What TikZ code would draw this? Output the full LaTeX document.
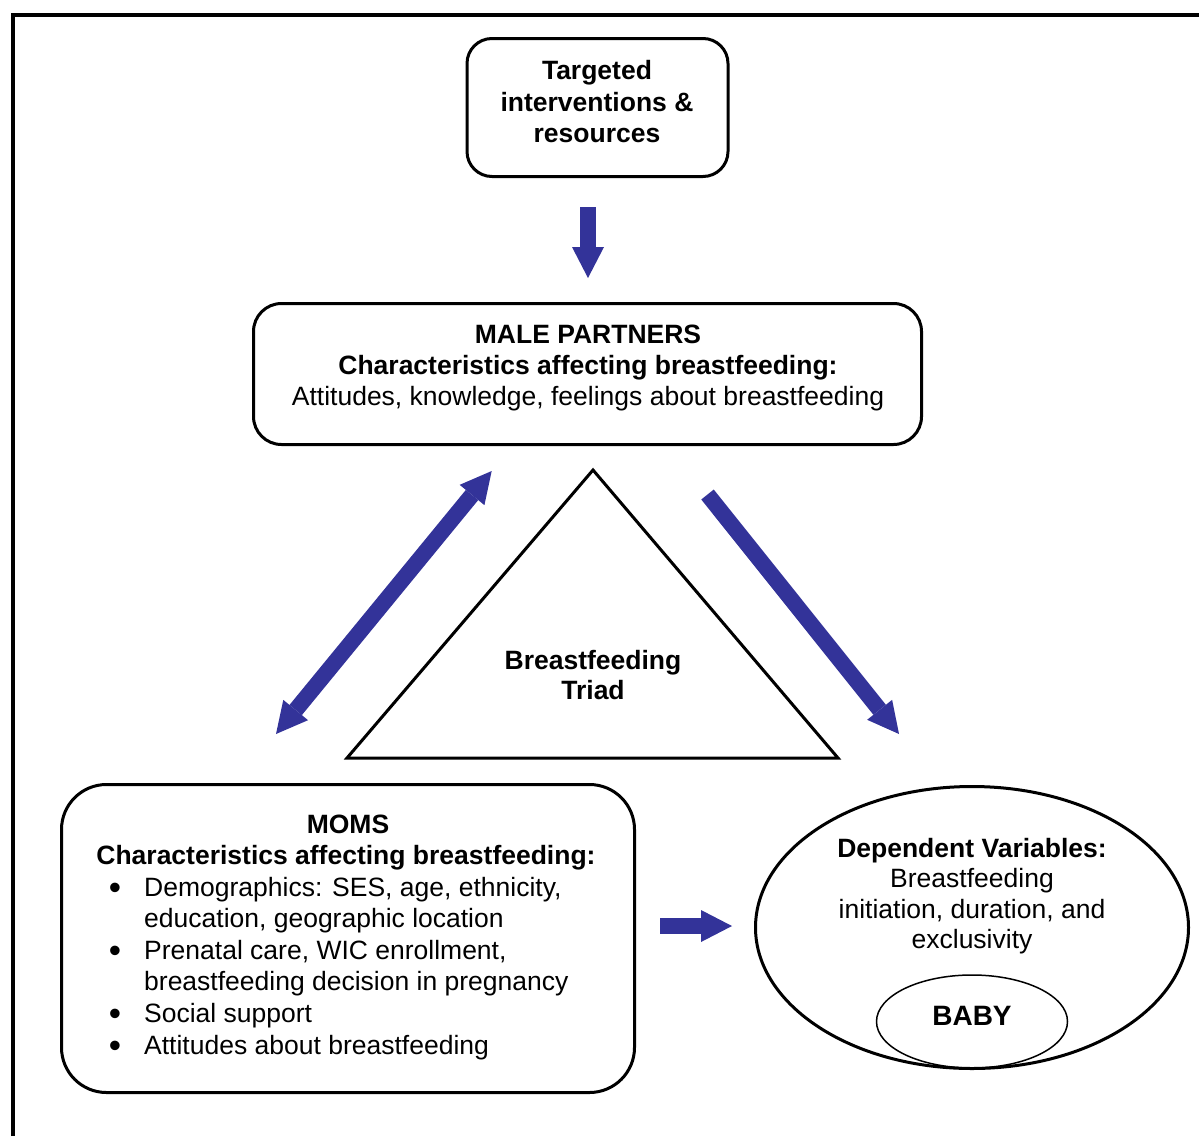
\documentclass[tikz,border=0pt]{standalone}
\usepackage{fontspec}
\setmainfont{Liberation Sans}
\usetikzlibrary{arrows.meta,shapes.geometric}
\definecolor{arrowblue}{RGB}{51,51,153}
\begin{document}
\begin{tikzpicture}[x=1pt,y=-1pt,
  txt/.style={anchor=base,inner sep=0pt,font=\fontsize{26.5}{31.5}\selectfont},
  btxt/.style={anchor=base,inner sep=0pt,font=\fontsize{26.5}{31.5}\selectfont\bfseries},
  ltxt/.style={anchor=base west,inner sep=0pt,font=\fontsize{26.5}{31.5}\selectfont},
  bul/.style={anchor=base,inner sep=0pt,font=\fontsize{35}{40}\selectfont},
  roundbox/.style={draw,line width=3pt,rounded corners=#1,inner sep=0pt},
  blockarrow/.style={draw=arrowblue,color=arrowblue,line width=16pt},
  bhead/.tip={Triangle[length=31pt,width=32pt,line width=0pt]},
]
\useasboundingbox (0,0) rectangle (1199,1136);
% page border (top and left only visible)
\coordinate (bl) at (12.5,1136);
\coordinate (tl) at (12.5,14.5);
\coordinate (tr) at (1199,14.5);
\draw[line width=4pt] (bl) -- (tl) -- (tr);

% boxes
\node[roundbox=25pt,minimum width=261pt,minimum height=138pt] (top) at (597.5,107.5) {};
\node[roundbox=28pt,minimum width=668pt,minimum height=141pt] (male) at (587.5,374) {};
\node[roundbox=45pt,minimum width=573pt,minimum height=308pt] (moms) at (348,938.5) {};
\node[draw,ellipse,line width=3pt,inner sep=0pt,minimum width=433pt,minimum height=282pt] (dv) at (972,927.5) {};
\node[draw,ellipse,line width=1.5pt,inner sep=0pt,minimum width=191pt,minimum height=93pt] (baby) at (972,1021.5) {};

% triangle
\coordinate (ta) at (593,470);
\coordinate (tbl) at (347,758);
\coordinate (tbr) at (838,758);
\draw[line width=3pt,line join=miter] (ta) -- (tbr) -- (tbl) -- cycle;

% texts: top box
\node[btxt] (t1) at (597,79.5) {Targeted};
\node[btxt] (t2) at (597,111) {interventions \&};
\node[btxt] (t3) at (597,142.5) {resources};
% male partners
\node[btxt] (m1) at (588,343) {MALE PARTNERS};
\node[btxt] (m2) at (588,374) {Characteristics affecting breastfeeding:};
\node[txt] (m3) at (588,405.5) {Attitudes, knowledge, feelings about breastfeeding};
% triad
\node[btxt] (r1) at (593,669) {Breastfeeding};
\node[btxt] (r2) at (593,699) {Triad};
% moms
\node[btxt] (w1) at (348,833) {MOMS};
\node[btxt] (w2) at (346,864) {Characteristics affecting breastfeeding:};
\node[bul] (b1) at (115,899) {\textbullet};
\node[ltxt] (w3) at (144,896) {Demographics: SES, age, ethnicity,};
\node[ltxt] (w4) at (144,927) {education, geographic location};
\node[bul] (b2) at (115,962) {\textbullet};
\node[ltxt] (w5) at (144,959) {Prenatal care, WIC enrollment,};
\node[ltxt] (w6) at (144,990) {breastfeeding decision in pregnancy};
\node[bul] (b3) at (115,1025) {\textbullet};
\node[ltxt] (w7) at (144,1022) {Social support};
\node[bul] (b4) at (115,1057) {\textbullet};
\node[ltxt] (w8) at (144,1054) {Attitudes about breastfeeding};
% dependent variables
\node[btxt] (d1) at (972,857) {Dependent Variables:};
\node[txt] (d2) at (972,887) {Breastfeeding};
\node[txt] (d3) at (972,918) {initiation, duration, and};
\node[txt] (d4) at (972,948) {exclusivity};
\node[anchor=base,inner sep=0pt,font=\fontsize{28}{33}\selectfont\bfseries] (d5) at (972,1025) {BABY};

% block arrows
\coordinate (a1s) at (588,207);
\coordinate (a1e) at (588,278);
\draw[blockarrow,-bhead] (a1s) -- (a1e);
\coordinate (a2s) at (276,734);
\coordinate (a2e) at (491.7,471);
\draw[blockarrow,bhead-bhead] (a2s) -- (a2e);
\coordinate (a3s) at (707.5,494.5);
\coordinate (a3e) at (899,734);
\draw[blockarrow,-bhead] (a3s) -- (a3e);
\coordinate (a4s) at (660,926);
\coordinate (a4e) at (732,926);
\draw[blockarrow,-bhead] (a4s) -- (a4e);
\end{tikzpicture}
\end{document}
